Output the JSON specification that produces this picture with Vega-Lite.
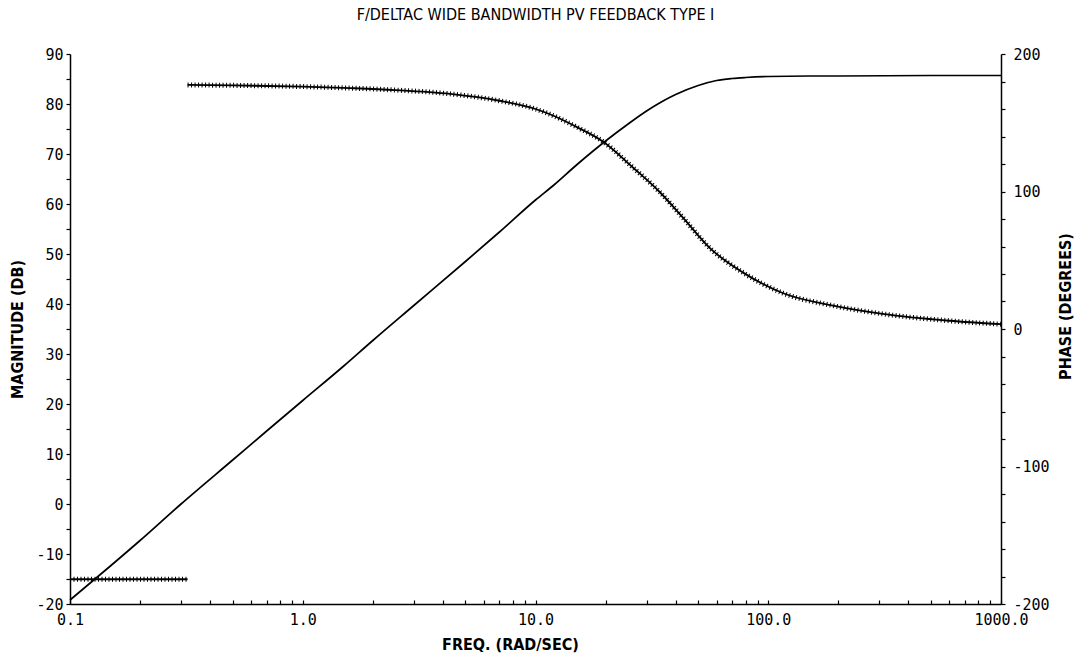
{
  "$schema": "https://vega.github.io/schema/vega-lite/v6.json",
  "autosize": {"type": "none"},
  "width": 931,
  "height": 550,
  "padding": {"left": 70, "top": 54, "right": 83, "bottom": 67},
  "background": "white",
  "config": {
    "view": {"stroke": null},
    "axis": {"grid": false, "domainColor": "black", "tickColor": "black", "labelColor": "black", "titleColor": "black", "domainWidth": 1.5, "tickWidth": 1.2}
  },
  "title": {
    "text": "F/DELTAC WIDE BANDWIDTH PV FEEDBACK TYPE I",
    "font": "DejaVu Sans Condensed, Roboto, sans-serif",
    "fontSize": 16,
    "fontWeight": "normal",
    "color": "black",
    "anchor": "middle",
    "offset": 24
  },
  "datasets": {
    "mag": [
      {"freq": 0.1, "mag": -19.2},
      {"freq": 0.15, "mag": -12.3},
      {"freq": 0.2, "mag": -7.3},
      {"freq": 0.3, "mag": 0},
      {"freq": 0.5, "mag": 8.8},
      {"freq": 0.7, "mag": 14.6},
      {"freq": 1, "mag": 20.7},
      {"freq": 1.5, "mag": 27.6},
      {"freq": 2, "mag": 32.7},
      {"freq": 3, "mag": 39.7},
      {"freq": 5, "mag": 48.5},
      {"freq": 7, "mag": 54.4},
      {"freq": 10, "mag": 60.8},
      {"freq": 12, "mag": 63.8},
      {"freq": 15, "mag": 67.8},
      {"freq": 20, "mag": 72.6},
      {"freq": 25, "mag": 76},
      {"freq": 30, "mag": 78.6},
      {"freq": 35, "mag": 80.5},
      {"freq": 40, "mag": 81.9},
      {"freq": 50, "mag": 83.7},
      {"freq": 60, "mag": 84.7},
      {"freq": 70, "mag": 85.1},
      {"freq": 80, "mag": 85.3},
      {"freq": 100, "mag": 85.5},
      {"freq": 150, "mag": 85.6},
      {"freq": 200, "mag": 85.6},
      {"freq": 500, "mag": 85.7},
      {"freq": 1000, "mag": 85.7}
    ],
    "phase": [
      {"freq": 0.1, "phase": -182, "branch": "low"},
      {"freq": 0.32, "phase": -182, "branch": "low"},
      {"freq": 0.32, "phase": 177.5, "branch": "high"},
      {"freq": 0.5, "phase": 177.2, "branch": "high"},
      {"freq": 1, "phase": 176.3, "branch": "high"},
      {"freq": 1.6, "phase": 175.2, "branch": "high"},
      {"freq": 2.5, "phase": 173.8, "branch": "high"},
      {"freq": 4.3, "phase": 171, "branch": "high"},
      {"freq": 7, "phase": 166, "branch": "high"},
      {"freq": 10, "phase": 160, "branch": "high"},
      {"freq": 11.6, "phase": 156, "branch": "high"},
      {"freq": 15, "phase": 147, "branch": "high"},
      {"freq": 19.6, "phase": 136, "branch": "high"},
      {"freq": 26, "phase": 118, "branch": "high"},
      {"freq": 34, "phase": 100, "branch": "high"},
      {"freq": 43, "phase": 81, "branch": "high"},
      {"freq": 56, "phase": 59, "branch": "high"},
      {"freq": 78, "phase": 41, "branch": "high"},
      {"freq": 116, "phase": 26, "branch": "high"},
      {"freq": 190, "phase": 17, "branch": "high"},
      {"freq": 310, "phase": 11, "branch": "high"},
      {"freq": 600, "phase": 6, "branch": "high"},
      {"freq": 1000, "phase": 3.5, "branch": "high"}
    ]
  },
  "layer": [
    {
      "data": {"name": "mag"},
      "mark": {"type": "line", "color": "black", "strokeWidth": 1.7, "interpolate": "monotone"},
      "encoding": {
        "x": {
          "field": "freq", "type": "quantitative",
          "scale": {"type": "log", "domain": [0.1, 1000]},
          "axis": {
            "title": "FREQ. (RAD/SEC)",
            "titleFont": "DejaVu Sans Condensed, Roboto, sans-serif", "titleFontSize": 16, "titleFontWeight": "bold",
            "titlePadding": 9, "titleX": 440,
            "values": [0.1,0.2,0.3,0.4,0.5,0.6,0.7,0.8,0.9,1,2,3,4,5,6,7,8,9,10,20,30,40,50,60,70,80,90,100,200,300,400,500,600,700,800,900,1000],
            "labelExpr": "abs(log(datum.value)/LN10 - round(log(datum.value)/LN10)) < 0.001 ? format(datum.value, '.1f') : ''",
            "labelFont": "DejaVu Sans Mono", "labelFontSize": 15, "labelPadding": 12,
            "tickSize": -4, "labelFlush": false, "labelOverlap": false
          }
        },
        "y": {
          "field": "mag", "type": "quantitative",
          "scale": {"domain": [-20, 90], "nice": false},
          "axis": {
            "title": "MAGNITUDE (DB)",
            "titleFont": "DejaVu Sans Condensed, Roboto, sans-serif", "titleFontSize": 16, "titleFontWeight": "bold",
            "titlePadding": 10,
            "values": [-20,-15,-10,-5,0,5,10,15,20,25,30,35,40,45,50,55,60,65,70,75,80,85,90],
            "labelExpr": "datum.value % 10 == 0 ? '' + datum.value : ''",
            "labelFont": "DejaVu Sans Mono", "labelFontSize": 15, "labelPadding": 3,
            "tickSize": 4, "labelOverlap": false
          }
        }
      }
    },
    {
      "data": {"name": "phase"},
      "encoding": {
        "x": {"field": "freq", "type": "quantitative", "scale": {"type": "log", "domain": [0.1, 1000]}},
        "y": {
          "field": "phase", "type": "quantitative",
          "scale": {"domain": [-200, 200], "nice": false},
          "axis": {
            "orient": "right",
            "title": "PHASE (DEGREES)",
            "titleFont": "DejaVu Sans Condensed, Roboto, sans-serif", "titleFontSize": 16, "titleFontWeight": "bold",
            "titleAngle": 270, "titlePadding": 24, "titleY": 252,
            "values": [-200,-180,-160,-140,-120,-100,-80,-60,-40,-20,0,20,40,60,80,100,120,140,160,180,200],
            "labelExpr": "datum.value % 100 == 0 ? '' + datum.value : ''",
            "labelFont": "DejaVu Sans Mono", "labelFontSize": 15, "labelPadding": 8,
            "tickSize": 4, "labelOverlap": false
          }
        },
        "detail": {"field": "branch"}
      },
      "layer": [
        {"mark": {"type": "line", "color": "black", "strokeWidth": 1.8, "interpolate": "monotone"}},
        {"mark": {"type": "line", "color": "black", "strokeWidth": 5, "strokeDash": [1, 2.5], "interpolate": "monotone"}}
      ]
    }
  ],
  "resolve": {"scale": {"y": "independent"}}
}
